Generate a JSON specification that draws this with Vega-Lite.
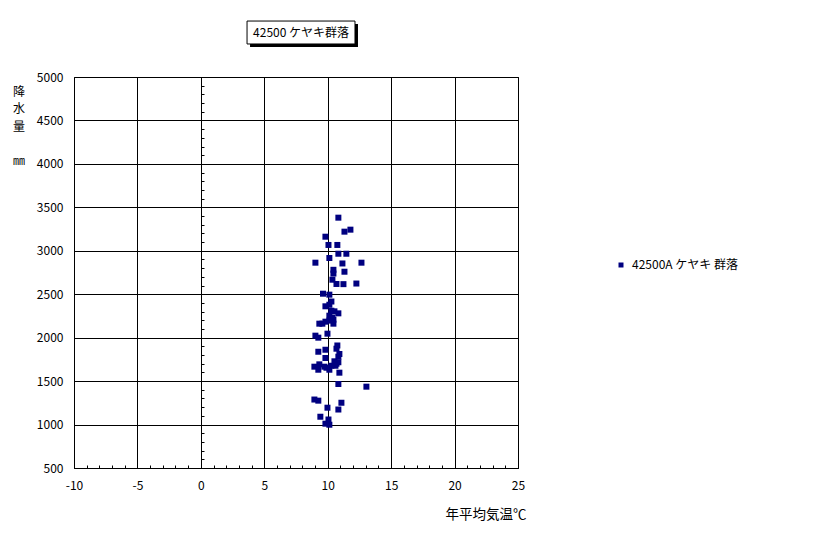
{
  "$schema": "https://vega.github.io/schema/vega-lite/v6.json",
  "width": 444,
  "height": 391,
  "autosize": {"type": "none"},
  "padding": {"left": 74, "top": 77, "right": 298, "bottom": 66},
  "background": "white",
  "config": {
    "view": {"stroke": "black", "strokeWidth": 1},
    "font": "Noto Sans CJK JP",
    "axis": {"labelColor": "black", "titleColor": "black", "titleFontWeight": "normal", "labelFont": "Noto Sans CJK JP", "titleFont": "Noto Sans CJK JP"},
    "legend": {"labelFont": "Noto Sans CJK JP"}
  },
  "datasets": {
    "pts": [
      {"t": 10.84, "p": 3381, "s": "42500A ケヤキ 群落"},
      {"t": 11.79, "p": 3243, "s": "42500A ケヤキ 群落"},
      {"t": 11.32, "p": 3220, "s": "42500A ケヤキ 群落"},
      {"t": 9.82, "p": 3162, "s": "42500A ケヤキ 群落"},
      {"t": 10.06, "p": 3067, "s": "42500A ケヤキ 群落"},
      {"t": 10.76, "p": 3067, "s": "42500A ケヤキ 群落"},
      {"t": 10.84, "p": 2966, "s": "42500A ケヤキ 群落"},
      {"t": 11.47, "p": 2966, "s": "42500A ケヤキ 群落"},
      {"t": 10.13, "p": 2917, "s": "42500A ケヤキ 群落"},
      {"t": 9.03, "p": 2863, "s": "42500A ケヤキ 群落"},
      {"t": 11.16, "p": 2854, "s": "42500A ケヤキ 群落"},
      {"t": 12.66, "p": 2863, "s": "42500A ケヤキ 群落"},
      {"t": 10.45, "p": 2781, "s": "42500A ケヤキ 群落"},
      {"t": 11.32, "p": 2759, "s": "42500A ケヤキ 群落"},
      {"t": 10.45, "p": 2738, "s": "42500A ケヤキ 群落"},
      {"t": 10.37, "p": 2667, "s": "42500A ケヤキ 群落"},
      {"t": 10.69, "p": 2618, "s": "42500A ケヤキ 群落"},
      {"t": 11.24, "p": 2616, "s": "42500A ケヤキ 群落"},
      {"t": 12.26, "p": 2623, "s": "42500A ケヤキ 群落"},
      {"t": 9.63, "p": 2506, "s": "42500A ケヤキ 群落"},
      {"t": 10.13, "p": 2495, "s": "42500A ケヤキ 群落"},
      {"t": 10.29, "p": 2416, "s": "42500A ケヤキ 群落"},
      {"t": 10.13, "p": 2379, "s": "42500A ケヤキ 群落"},
      {"t": 9.82, "p": 2361, "s": "42500A ケヤキ 群落"},
      {"t": 10.29, "p": 2310, "s": "42500A ケヤキ 群落"},
      {"t": 10.53, "p": 2303, "s": "42500A ケヤキ 群落"},
      {"t": 10.84, "p": 2280, "s": "42500A ケヤキ 群落"},
      {"t": 10.13, "p": 2253, "s": "42500A ケヤキ 群落"},
      {"t": 10.37, "p": 2230, "s": "42500A ケヤキ 群落"},
      {"t": 10.45, "p": 2207, "s": "42500A ケヤキ 群落"},
      {"t": 10.13, "p": 2196, "s": "42500A ケヤキ 群落"},
      {"t": 9.82, "p": 2184, "s": "42500A ケヤキ 群落"},
      {"t": 9.34, "p": 2161, "s": "42500A ケヤキ 群落"},
      {"t": 9.58, "p": 2161, "s": "42500A ケヤキ 群落"},
      {"t": 10.45, "p": 2161, "s": "42500A ケヤキ 群落"},
      {"t": 9.98, "p": 2046, "s": "42500A ケヤキ 群落"},
      {"t": 9.03, "p": 2023, "s": "42500A ケヤキ 群落"},
      {"t": 9.26, "p": 2000, "s": "42500A ケヤキ 群落"},
      {"t": 10.76, "p": 1910, "s": "42500A ケヤキ 群落"},
      {"t": 10.69, "p": 1873, "s": "42500A ケヤキ 群落"},
      {"t": 9.82, "p": 1861, "s": "42500A ケヤキ 群落"},
      {"t": 9.26, "p": 1838, "s": "42500A ケヤキ 群落"},
      {"t": 10.92, "p": 1812, "s": "42500A ケヤキ 群落"},
      {"t": 10.84, "p": 1781, "s": "42500A ケヤキ 群落"},
      {"t": 9.82, "p": 1766, "s": "42500A ケヤキ 群落"},
      {"t": 10.53, "p": 1728, "s": "42500A ケヤキ 群落"},
      {"t": 10.84, "p": 1717, "s": "42500A ケヤキ 群落"},
      {"t": 10.69, "p": 1700, "s": "42500A ケヤキ 群落"},
      {"t": 9.34, "p": 1693, "s": "42500A ケヤキ 群落"},
      {"t": 10.29, "p": 1677, "s": "42500A ケヤキ 群落"},
      {"t": 10.61, "p": 1677, "s": "42500A ケヤキ 群落"},
      {"t": 8.95, "p": 1666, "s": "42500A ケヤキ 群落"},
      {"t": 9.74, "p": 1666, "s": "42500A ケヤキ 群落"},
      {"t": 9.9, "p": 1654, "s": "42500A ケヤキ 群落"},
      {"t": 9.26, "p": 1631, "s": "42500A ケヤキ 群落"},
      {"t": 10.13, "p": 1631, "s": "42500A ケヤキ 群落"},
      {"t": 10.92, "p": 1597, "s": "42500A ケヤキ 群落"},
      {"t": 10.84, "p": 1467, "s": "42500A ケヤキ 群落"},
      {"t": 13.05, "p": 1436, "s": "42500A ケヤキ 群落"},
      {"t": 8.95, "p": 1288, "s": "42500A ケヤキ 群落"},
      {"t": 9.26, "p": 1275, "s": "42500A ケヤキ 群落"},
      {"t": 11.08, "p": 1251, "s": "42500A ケヤキ 群落"},
      {"t": 9.98, "p": 1194, "s": "42500A ケヤキ 群落"},
      {"t": 10.84, "p": 1173, "s": "42500A ケヤキ 群落"},
      {"t": 9.42, "p": 1090, "s": "42500A ケヤキ 群落"},
      {"t": 10.06, "p": 1058, "s": "42500A ケヤキ 群落"},
      {"t": 9.82, "p": 1010, "s": "42500A ケヤキ 群落"},
      {"t": 10.13, "p": 998, "s": "42500A ケヤキ 群落"}
    ]
  },
  "layer": [
    {
      "data": {"name": "pts"},
      "mark": {"type": "square", "size": 36, "filled": true, "opacity": 1},
      "encoding": {
        "x": {
          "field": "t", "type": "quantitative",
          "scale": {"domain": [-10, 25], "nice": false, "zero": false},
          "axis": {
            "values": [-10,-9,-8,-7,-6,-5,-4,-3,-2,-1,0,1,2,3,4,5,6,7,8,9,10,11,12,13,14,15,16,17,18,19,20,21,22,23,24,25],
            "labelExpr": "datum.value % 5 === 0 ? toString(datum.value) : ''",
            "labelFlush": false, "labelOverlap": false, "labelFontSize": 12, "labelPadding": 15,
            "domain": false, "ticks": true, "tickSize": -3, "tickColor": "black", "tickWidth": 1,
            "grid": true, "gridColor": "black", "gridWidth": 1,
            "gridOpacity": {"condition": {"test": "datum.value % 5 === 0", "value": 1}, "value": 0},
            "title": "年平均気温℃", "titleFontSize": 13.5, "titleAlign": "right", "titleBaseline": "middle", "titleX": 452, "titleY": 46
          }
        },
        "y": {
          "field": "p", "type": "quantitative",
          "scale": {"domain": [500, 5000], "nice": false, "zero": false},
          "axis": {
            "orient": "left",
            "values": [500,1000,1500,2000,2500,3000,3500,4000,4500,5000],
            "format": "d",
            "labelFontSize": 12, "labelPadding": 11, "ticks": false, "tickSize": 0, "domain": false,
            "grid": true, "gridColor": "black", "gridWidth": 1, "gridOpacity": 1,
            "title": ["降", "水", "量"], "titleAngle": 0, "titleAlign": "center", "titleBaseline": "top",
            "titleFontSize": 12, "titleLineHeight": 17.5, "titleX": -55.5, "titleY": 9
          }
        },
        "color": {
          "field": "s", "type": "nominal",
          "scale": {"range": ["#000080"]},
          "legend": {
            "orient": "none", "legendX": 541, "legendY": 182, "title": null,
            "symbolType": "square", "symbolSize": 25, "symbolStrokeWidth": 0,
            "labelFontSize": 12, "labelColor": "black", "labelOffset": 5, "padding": 0
          }
        }
      }
    },
    {
      "data": {"values": [{}]},
      "mark": {"type": "rect", "fill": "black", "xOffset": 3, "x2Offset": 3, "yOffset": 3, "y2Offset": 3},
      "encoding": {
        "x": {
          "datum": 3.64, "type": "quantitative",
          "scale": {"domain": [-10, 25], "nice": false, "zero": false},
          "axis": {
            "values": [-10,-9,-8,-7,-6,-5,-4,-3,-2,-1,0,1,2,3,4,5,6,7,8,9,10,11,12,13,14,15,16,17,18,19,20,21,22,23,24,25],
            "labelExpr": "datum.value % 5 === 0 ? toString(datum.value) : ''",
            "labelFlush": false, "labelOverlap": false, "labelFontSize": 12, "labelPadding": 15,
            "domain": false, "ticks": true, "tickSize": -3, "tickColor": "black", "tickWidth": 1,
            "grid": true, "gridColor": "black", "gridWidth": 1,
            "gridOpacity": {"condition": {"test": "datum.value % 5 === 0", "value": 1}, "value": 0},
            "title": "年平均気温℃", "titleFontSize": 13.5, "titleAlign": "right", "titleBaseline": "middle", "titleX": 452, "titleY": 46
          }
        },
        "x2": {"datum": 12.15},
        "y": {
          "datum": 5644, "type": "quantitative",
          "scale": {"domain": [500, 5000], "nice": false, "zero": false},
          "axis": {
            "orient": "left", "offset": -127,
            "values": [500,600,700,800,900,1000,1100,1200,1300,1400,1500,1600,1700,1800,1900,2000,2100,2200,2300,2400,2500,2600,2700,2800,2900,3000,3100,3200,3300,3400,3500,3600,3700,3800,3900,4000,4100,4200,4300,4400,4500,4600,4700,4800,4900,5000],
            "labels": false, "grid": false, "domain": true, "domainColor": "black", "domainWidth": 1,
            "ticks": true, "tickSize": -3, "tickColor": "black", "tickWidth": 1,
            "title": "㎜", "titleAngle": 0, "titleAlign": "center", "titleBaseline": "middle",
            "titleFontSize": 12, "titleColor": "black", "titleX": -182.5, "titleY": 83
          }
        },
        "y2": {"datum": 5380}
      }
    },
    {
      "data": {"values": [{}]},
      "mark": {"type": "rect", "fill": "white", "stroke": "black", "strokeWidth": 1},
      "encoding": {
        "x": {
          "datum": 3.64, "type": "quantitative",
          "scale": {"domain": [-10, 25], "nice": false, "zero": false},
          "axis": {
            "values": [-10,-9,-8,-7,-6,-5,-4,-3,-2,-1,0,1,2,3,4,5,6,7,8,9,10,11,12,13,14,15,16,17,18,19,20,21,22,23,24,25],
            "labelExpr": "datum.value % 5 === 0 ? toString(datum.value) : ''",
            "labelFlush": false, "labelOverlap": false, "labelFontSize": 12, "labelPadding": 15,
            "domain": false, "ticks": true, "tickSize": -3, "tickColor": "black", "tickWidth": 1,
            "grid": true, "gridColor": "black", "gridWidth": 1,
            "gridOpacity": {"condition": {"test": "datum.value % 5 === 0", "value": 1}, "value": 0},
            "title": "年平均気温℃", "titleFontSize": 13.5, "titleAlign": "right", "titleBaseline": "middle", "titleX": 452, "titleY": 46
          }
        },
        "x2": {"datum": 12.15},
        "y": {"datum": 5644, "type": "quantitative", "scale": {"domain": [500, 5000], "nice": false, "zero": false}, "axis": null},
        "y2": {"datum": 5380}
      }
    },
    {
      "data": {"values": [{}]},
      "mark": {"type": "text", "fontSize": 12, "color": "black", "align": "center", "baseline": "middle", "font": "Noto Sans CJK JP"},
      "encoding": {
        "x": {
          "datum": 7.9, "type": "quantitative",
          "scale": {"domain": [-10, 25], "nice": false, "zero": false},
          "axis": {
            "values": [-10,-9,-8,-7,-6,-5,-4,-3,-2,-1,0,1,2,3,4,5,6,7,8,9,10,11,12,13,14,15,16,17,18,19,20,21,22,23,24,25],
            "labelExpr": "datum.value % 5 === 0 ? toString(datum.value) : ''",
            "labelFlush": false, "labelOverlap": false, "labelFontSize": 12, "labelPadding": 15,
            "domain": false, "ticks": true, "tickSize": -3, "tickColor": "black", "tickWidth": 1,
            "grid": true, "gridColor": "black", "gridWidth": 1,
            "gridOpacity": {"condition": {"test": "datum.value % 5 === 0", "value": 1}, "value": 0},
            "title": "年平均気温℃", "titleFontSize": 13.5, "titleAlign": "right", "titleBaseline": "middle", "titleX": 452, "titleY": 46
          }
        },
        "y": {"datum": 5512, "type": "quantitative", "scale": {"domain": [500, 5000], "nice": false, "zero": false}, "axis": null},
        "text": {"value": "42500 ケヤキ群落"}
      }
    }
  ],
  "resolve": {"axis": {"y": "independent"}}
}
